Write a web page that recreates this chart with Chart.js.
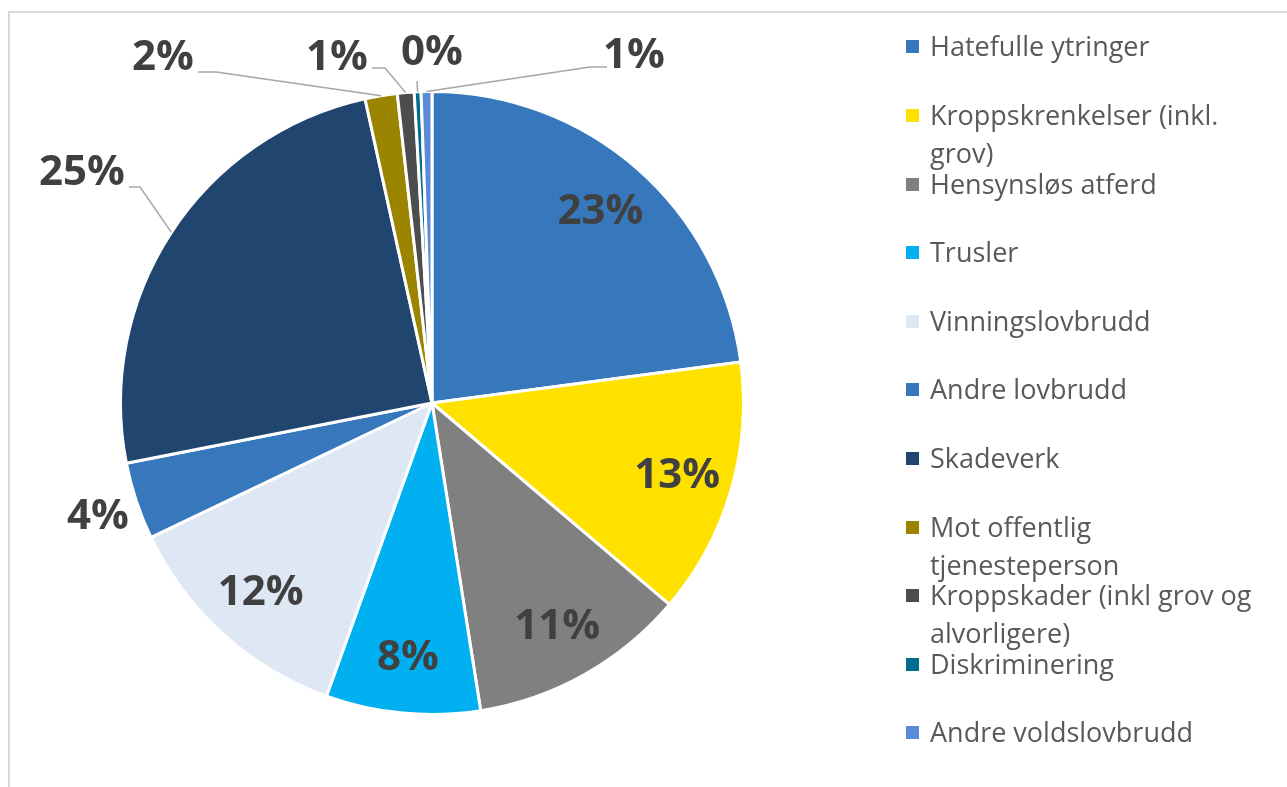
<!DOCTYPE html>
<html>
<head>
<meta charset="utf-8">
<script src="https://cdn.jsdelivr.net/npm/chart.js@4.4.1/dist/chart.umd.min.js"></script>
<style>
  html, body { margin: 0; padding: 0; background: #fff; }
  #wrap { position: relative; width: 1287px; height: 787px; overflow: hidden; }
  #frame { position: absolute; left: 8px; top: 11px; width: 1400px; height: 900px;
           border-left: 2px solid #d9d9d9; border-top: 2px solid #d9d9d9; }
  #pie { position: absolute; left: 0; top: 0; }
  #legend { position: absolute; left: 0; top: 0; font-family: 'Open Sans', sans-serif;
            font-size: 27px; color: #595959; }
  .item { position: absolute; left: 906px; line-height: 38px; }
  .item i { position: absolute; left: 0; top: 13px; width: 13px; height: 13px; }
  .item span { position: absolute; left: 24px; top: 0; width: 345px; }
</style>
</head>
<body>
<div id="wrap">
  <div id="frame"></div>
  <canvas id="pie" width="1287" height="787"></canvas>
  <div id="legend"></div>
</div>
<script>
const categories = [
  'Hatefulle ytringer',
  'Kroppskrenkelser (inkl. grov)',
  'Hensynsløs atferd',
  'Trusler',
  'Vinningslovbrudd',
  'Andre lovbrudd',
  'Skadeverk',
  'Mot offentlig tjenesteperson',
  'Kroppskader (inkl grov og alvorligere)',
  'Diskriminering',
  'Andre voldslovbrudd'
];
const shares = [22.9, 13.3, 11.3, 8.0, 12.4, 4.0, 24.65, 1.67, 0.87, 0.35, 0.56];
const colors = ['#3777bc', '#ffe100', '#808080', '#00b0f0', '#dee8f5', '#3777bc',
                '#20466f', '#9b8500', '#4d4d4d', '#006c8e', '#5b8bd6'];

// placement of the labels that sit outside the pie (relative to the centre)
const outside = {
  5: { dx: -334, dy: 113 },
  6: { dx: -350, dy: -231, line: [[-303, -216], [-292, -216]] },
  7: { dx: -269, dy: -346, line: [[-234, -331], [-216, -331]] },
  8: { dx: -95, dy: -346, line: [[-60, -335], [-47, -335]] },
  9: { dx: 0, dy: -351, line: [[-15, -322]] },
  10: { dx: 202, dy: -348, line: [[175, -336], [158, -336]] }
};

const pctLabels = {
  id: 'pctLabels',
  afterDatasetsDraw(chart) {
    const ctx = chart.ctx;
    const meta = chart.getDatasetMeta(0);
    const total = shares.reduce((a, b) => a + b, 0);
    ctx.save();
    meta.data.forEach((arc, i) => {
      const { x, y, startAngle, endAngle, outerRadius } =
        arc.getProps(['x', 'y', 'startAngle', 'endAngle', 'outerRadius'], true);
      const mid = (startAngle + endAngle) / 2;
      const txt = Math.round(shares[i] / total * 100) + '%';
      const spot = outside[i];
      let lx, ly;
      if (!spot) {
        lx = x + Math.cos(mid) * outerRadius * 0.82;
        ly = y + Math.sin(mid) * outerRadius * 0.82;
      } else {
        lx = x + spot.dx;
        ly = y + spot.dy;
        if (spot.line) {
          ctx.beginPath();
          ctx.strokeStyle = '#a6a6a6';
          ctx.lineWidth = 1.5;
          ctx.moveTo(x + spot.line[0][0], y + spot.line[0][1]);
          for (let k = 1; k < spot.line.length; k++) {
            ctx.lineTo(x + spot.line[k][0], y + spot.line[k][1]);
          }
          ctx.lineTo(x + Math.cos(mid) * outerRadius, y + Math.sin(mid) * outerRadius);
          ctx.stroke();
        }
      }
      ctx.font = 'bold 42px "Open Sans"';
      ctx.fillStyle = '#404040';
      ctx.textAlign = 'center';
      ctx.textBaseline = 'middle';
      ctx.fillText(txt, lx, ly + 1);
    });
    ctx.restore();
  }
};

new Chart(document.getElementById('pie'), {
  type: 'pie',
  data: {
    labels: categories,
    datasets: [{
      data: shares,
      backgroundColor: colors,
      borderColor: '#ffffff',
      borderWidth: 3
    }]
  },
  options: {
    responsive: false,
    animation: false,
    layout: { padding: { left: 119, right: 542, top: 90, bottom: 71 } },
    plugins: {
      legend: { display: false },
      tooltip: { enabled: false }
    }
  },
  plugins: [pctLabels]
});

// legend on the right
const legend = document.getElementById('legend');
categories.forEach((name, i) => {
  const item = document.createElement('div');
  item.className = 'item';
  item.style.top = (46.4 + i * 68.6 - 19) + 'px';
  const box = document.createElement('i');
  box.style.background = colors[i];
  const text = document.createElement('span');
  text.textContent = name;
  item.appendChild(box);
  item.appendChild(text);
  legend.appendChild(item);
});
</script>
</body>
</html>
